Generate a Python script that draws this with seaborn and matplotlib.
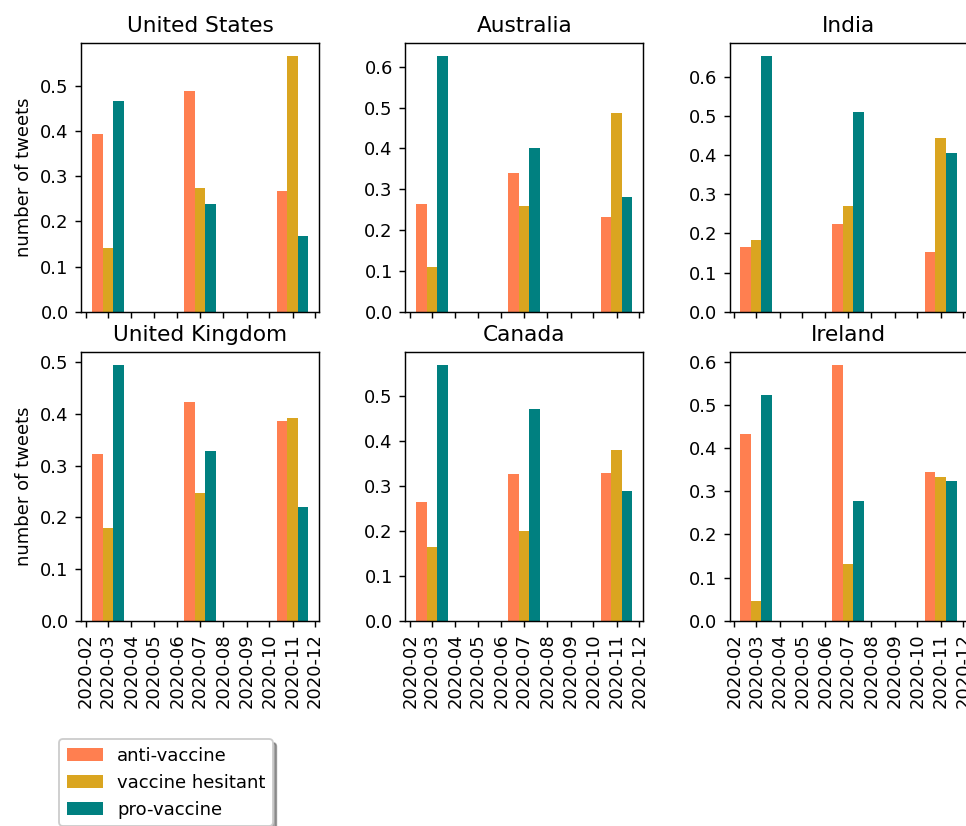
import numpy as np
import pandas as pd
import matplotlib
matplotlib.use("Agg")
import matplotlib.pyplot as plt
import matplotlib.dates as mdates
from matplotlib.patches import Patch
import seaborn as sns

# ------- datos -------
countries = ["United States", "Australia", "India",
             "United Kingdom", "Canada", "Ireland"]
periods = ["2020-03-01", "2020-07-01", "2020-11-01"]
stances = ["anti-vaccine", "vaccine hesitant", "pro-vaccine"]

anti_vaccine = [
    [0.393, 0.488, 0.267],
    [0.264, 0.340, 0.232],
    [0.165, 0.223, 0.152],
    [0.322, 0.423, 0.386],
    [0.265, 0.327, 0.330],
    [0.432, 0.592, 0.344],
]
vaccine_hesitant = [
    [0.141, 0.274, 0.566],
    [0.109, 0.259, 0.487],
    [0.183, 0.269, 0.443],
    [0.180, 0.248, 0.392],
    [0.164, 0.200, 0.381],
    [0.046, 0.131, 0.333],
]
pro_vaccine = [
    [0.466, 0.238, 0.167],
    [0.626, 0.401, 0.281],
    [0.653, 0.509, 0.405],
    [0.495, 0.328, 0.221],
    [0.570, 0.473, 0.289],
    [0.523, 0.277, 0.324],
]

colors = ["coral", "goldenrod", "teal"]
palette = dict(zip(stances, sns.color_palette(colors)))

# ------- tabla larga para seaborn -------
rows = []
for i, country in enumerate(countries):
    for j, p in enumerate(periods):
        for stance, vals in zip(stances, [anti_vaccine, vaccine_hesitant, pro_vaccine]):
            rows.append({"country": country,
                         "fecha": mdates.date2num(pd.Timestamp(p)),
                         "stance": stance,
                         "value": vals[i][j]})
df = pd.DataFrame(rows)

# ancho de cada barra: 14 dias
fechas = np.sort(df["fecha"].unique())
bar_width = 3 * 14 / np.diff(fechas).min()

DPI = 130
fig, axes = plt.subplots(2, 3, sharex=True, figsize=(966 / DPI, 826 / DPI), dpi=DPI)
fig.subplots_adjust(left=0.0842, right=1.0014, bottom=0.2485, top=0.9476,
                    wspace=0.363, hspace=0.151)

for ax, country in zip(axes.flat, countries):
    sub = df[df["country"] == country]
    sns.barplot(data=sub, x="fecha", y="value", hue="stance", hue_order=stances,
                palette=palette, native_scale=True, width=bar_width,
                saturation=1, errorbar=None, legend=False, ax=ax)
    ax.set_title(country)
    ax.set_xlabel("")
    ax.set_ylabel("")
    ax.xaxis.set_major_locator(mdates.MonthLocator())
    ax.xaxis.set_major_formatter(mdates.DateFormatter("%Y-%m"))

for ax in axes[:, 0]:
    ax.set_ylabel("number of tweets")

for ax in axes[1, :]:
    plt.setp(ax.get_xticklabels(), rotation=90)

handles = [Patch(facecolor=palette[s], label=s) for s in stances]
fig.legend(handles=handles, loc="upper left",
           bbox_to_anchor=(59.3 / 966, 1 - 739.3 / 826),
           borderaxespad=0, shadow=True)

fig.savefig("out.png", dpi=DPI)
